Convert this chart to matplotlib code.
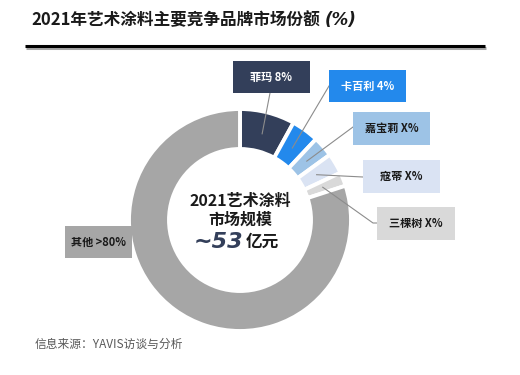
import numpy as np
import matplotlib
matplotlib.use('Agg')
import matplotlib.pyplot as plt
import matplotlib.patheffects as pe
from matplotlib.patches import Rectangle

plt.rcParams['font.family'] = ['Noto Sans CJK SC', 'DejaVu Sans']

# ── data ──────────────────────────────────────────────────────────────────────
brands  = ['菲玛', '卡百利', '嘉宝莉', '寇蒂', '三棵树', '其他']
shares  = [8, 4, 3, 3, 2, 80]
labels  = ['菲玛 8%', '卡百利 4%', '嘉宝莉 X%', '寇蒂 X%', '三棵树 X%', '其他 >80%']
colors  = ['#333F5A', '#2389EC', '#9DC3E6', '#DAE3F3', '#D9D9D9', '#A6A6A6']
txt_col = ['white', 'white', '#1a1a1a', '#1a1a1a', '#1a1a1a', '#1a1a1a']

# label boxes (pixel coords, y from top): x0, y0, x1, y1 and leader anchor
boxes   = [(233, 61, 310, 93), (329, 70, 406, 102), (353, 112, 430, 145),
           (363, 160, 440, 193), (377, 207, 455, 240), (65, 226, 132, 258)]
anchors = [[(270, 93)], [(329, 86)], [(353, 127)], [(363, 177)],
           [(373, 223), (377, 223)], None]

CX, CY, R, W = 240, 220, 111, 40

fig = plt.figure(figsize=(5.2, 3.75), dpi=100)
ax = fig.add_axes([0, 0, 1, 1])

# y axis inverted → data-counterclockwise shows clockwise, top = -90°
wedges, _ = ax.pie(shares, colors=colors, startangle=-90, counterclock=True,
                   radius=R, center=(CX, CY),
                   wedgeprops=dict(width=W, edgecolor='white', linewidth=2.8))
ax.set_xlim(0, 520)
ax.set_ylim(375, 0)
ax.set_aspect('equal')
ax.axis('off')

# ── label boxes + leader lines ───────────────────────────────────────────────
for i, (w, lab) in enumerate(zip(wedges, labels)):
    x0, y0, x1, y1 = boxes[i]
    ax.add_patch(Rectangle((x0, y0), x1 - x0, y1 - y0, facecolor=colors[i],
                           edgecolor='none', zorder=3))
    ax.text((x0 + x1) / 2, (y0 + y1) / 2, lab, ha='center', va='center',
            fontsize=8, fontweight='bold', color=txt_col[i], zorder=4)
    if anchors[i] is None:
        continue
    mid = np.deg2rad((w.theta1 + w.theta2) / 2)
    rr = R - W / 2 - 2
    px, py = CX + rr * np.cos(mid), CY + rr * np.sin(mid)
    xs = [px] + [a[0] for a in anchors[i]]
    ys = [py] + [a[1] for a in anchors[i]]
    ax.plot(xs, ys, color='#8C8C8C', lw=0.8, zorder=2)

# ── center text ──────────────────────────────────────────────────────────────
ax.text(CX, 201, '2021艺术涂料', ha='center', va='center',
        fontsize=11.5, fontweight='bold', color='#1a1a1a')
ax.text(CX, 220, '市场规模', ha='center', va='center',
        fontsize=11.5, fontweight='bold', color='#1a1a1a')
ax.text(243, 242, '~53', ha='right', va='center', fontsize=16,
        fontweight='bold', style='italic', color='#333F5A',
        family=['DejaVu Sans'])
ax.text(246, 242, '亿元', ha='left', va='center', fontsize=12,
        fontweight='bold', color='#1a1a1a')

# ── title ────────────────────────────────────────────────────────────────────
ax.text(31, 20, '2021年艺术涂料主要竞争品牌市场份额', ha='left',
        va='center', fontsize=12, fontweight='bold', color='#1a1a1a')
ax.text(325, 20, '(%)', ha='left', va='center', fontsize=12,
        fontweight='bold', style='italic', color='#1a1a1a',
        family=['DejaVu Sans'])
ax.plot([25, 485], [46, 46], color='black', lw=2.2, solid_capstyle='butt',
        path_effects=[pe.SimpleLineShadow(offset=(1, -1.5), alpha=0.35),
                      pe.Normal()])

# ── footer ───────────────────────────────────────────────────────────────────
ax.text(35, 344, '信息来源：YAVIS访谈与分析', ha='left', va='center',
        fontsize=8.5, color='#595959', style='italic')

fig.savefig('out.png', dpi=100)
